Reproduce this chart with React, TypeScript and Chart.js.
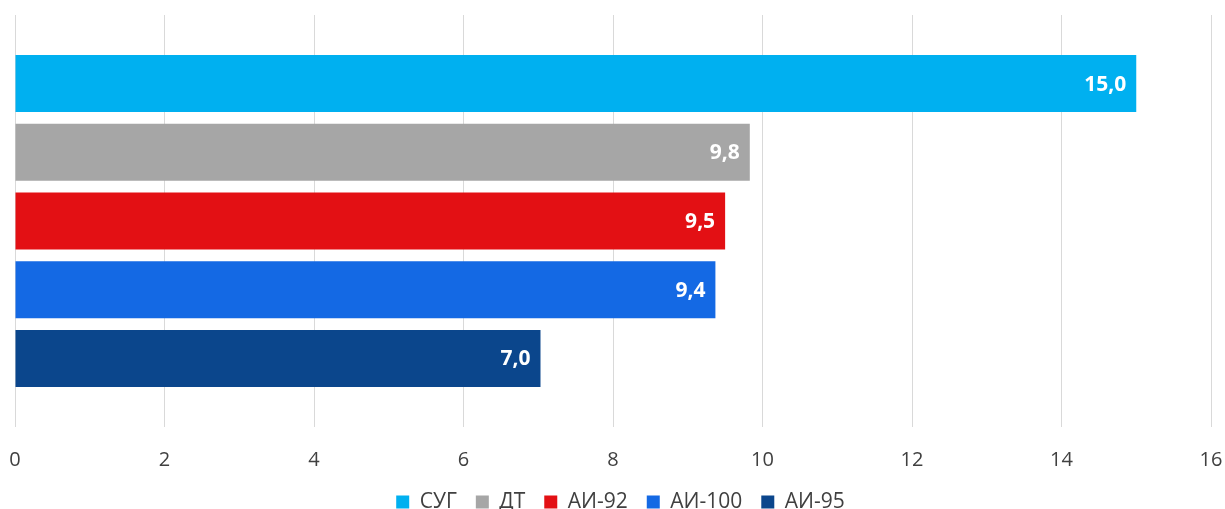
import React, { useEffect, useRef } from "react";
import { Chart, registerables } from "chart.js";

Chart.register(...registerables);

const categories: string[] = [""];
const seriesNames: string[] = ["СУГ", "ДТ", "АИ-92", "АИ-100", "АИ-95"];
const seriesValues: number[] = [15.0, 9.83, 9.5, 9.37, 7.03];
const seriesLabels: string[] = ["15,0", "9,8", "9,5", "9,4", "7,0"];
const seriesColors: string[] = ["#00B0F0", "#A6A6A6", "#E31014", "#1469E4", "#0B468C"];
const xTicks: number[] = [0, 2, 4, 6, 8, 10, 12, 14, 16];

const FONT = "'Open Sans', 'Noto Sans', sans-serif";

const valueLabelPlugin = {
  id: "valueLabels",
  afterDatasetsDraw(chart: any) {
    const ctx = chart.ctx;
    ctx.save();
    ctx.font = `bold 21px ${FONT}`;
    ctx.fillStyle = "#FFFFFF";
    ctx.textAlign = "right";
    ctx.textBaseline = "middle";
    chart.data.datasets.forEach((ds: any, i: number) => {
      const meta = chart.getDatasetMeta(i);
      meta.data.forEach((bar: any) => {
        ctx.fillText(seriesLabels[i], bar.x - 10, bar.y + 1);
      });
    });
    ctx.restore();
  },
};

const legendShiftPlugin = {
  id: "legendShift",
  afterLayout(chart: any) {
    if (chart.legend) {
      chart.legend.left += 15;
      chart.legend.top += 2;
    }
  },
};

export default function App() {
  const ref = useRef<HTMLCanvasElement | null>(null);

  useEffect(() => {
    if (!ref.current) return;
    const chart = new Chart(ref.current, {
      type: "bar",
      data: {
        labels: categories,
        datasets: seriesNames.map((name, i) => ({
          label: name,
          data: [seriesValues[i]],
          backgroundColor: seriesColors[i],
          borderWidth: 0,
          barPercentage: 0.83,
          categoryPercentage: 0.834,
        })),
      },
      options: {
        indexAxis: "y",
        animation: false,
        responsive: true,
        maintainAspectRatio: false,
        layout: { padding: { left: 15, right: 14, top: 15, bottom: -11.5 } },
        scales: {
          x: {
            min: 0,
            max: 16,
            afterBuildTicks: (scale: any) => {
              scale.ticks = xTicks.map((v) => ({ value: v }));
            },
            afterFit: (scale: any) => {
              scale.paddingLeft = 0;
              scale.paddingRight = 0;
              scale.height = 43.5;
            },
            grid: { color: "#D9D9D9", lineWidth: 1, drawTicks: false },
            border: { display: false },
            ticks: {
              padding: 21,
              color: "#404040",
              font: { family: FONT, size: 20 },
              callback: (v: any) => String(v),
            },
          },
          y: { display: false },
        },
        plugins: {
          legend: {
            position: "bottom",
            labels: {
              boxWidth: 13,
              boxHeight: 13,
              padding: 19,
              color: "#404040",
              font: { family: FONT, size: 21 },
            },
          },
          tooltip: { enabled: false },
        },
      },
      plugins: [valueLabelPlugin, legendShiftPlugin],
    });
    return () => chart.destroy();
  }, []);

  return (
    <div style={{ position: "fixed", left: 0, top: 0, width: 1225, height: 509 }}>
      <canvas ref={ref} />
    </div>
  );
}
